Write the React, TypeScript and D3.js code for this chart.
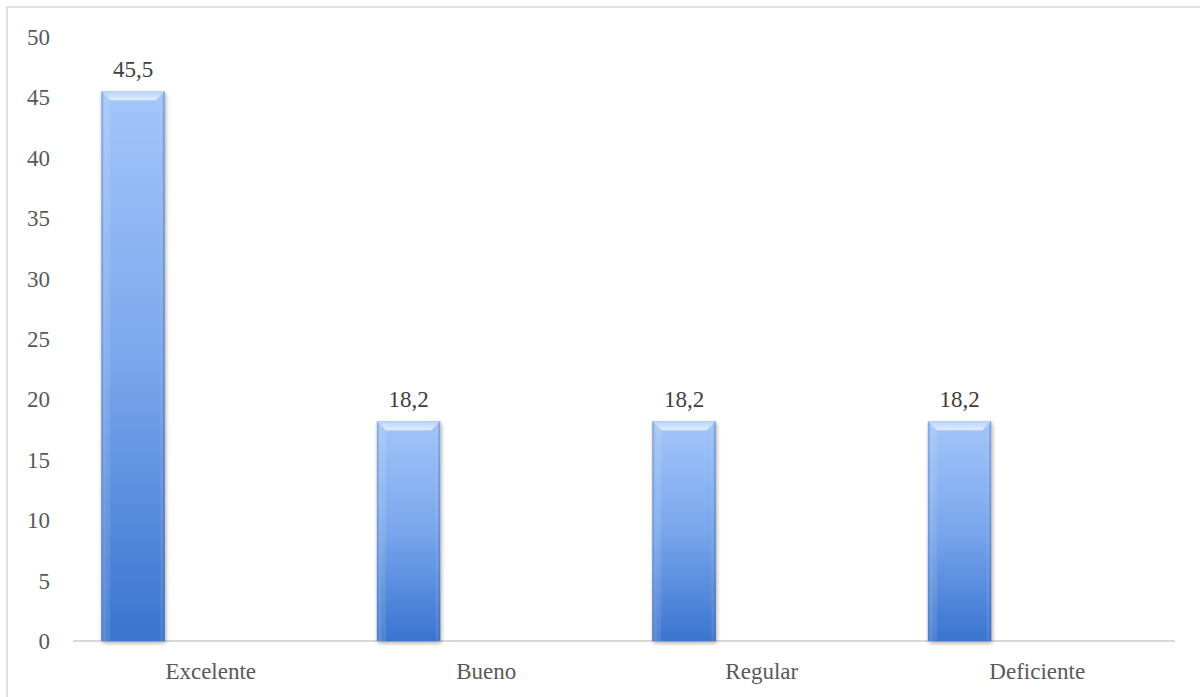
import React from "react";
import * as d3 from "d3";

const categories = ["Excelente", "Bueno", "Regular", "Deficiente"];
const values = [45.5, 18.2, 18.2, 18.2];
const yTicks = [0, 5, 10, 15, 20, 25, 30, 35, 40, 45, 50];

const W = 1200;
const H = 697;
const left = 73;
const right = 1175;
const top = 37;
const bottom = 641;

export default function App() {
  const x = d3.scaleBand<string>().domain(categories).range([left, right]).padding(0);
  const y = d3.scaleLinear().domain([0, 50]).range([bottom, top]);
  const bw = x.bandwidth();
  const barW = bw * 0.23;
  const barOff = bw * 0.103;
  const font = "'Liberation Serif', 'DejaVu Serif', serif";
  const fs = 23;
  const fmt = (v: number) => v.toFixed(1).replace(".", ",");
  const bev = 9;

  return (
    <svg width={W} height={H} style={{ position: "absolute", left: 0, top: 0 }}>
      <defs>
        <linearGradient id="gv" x1="0" y1="0" x2="0" y2="1">
          <stop offset="0" stopColor="#a3c6fa" />
          <stop offset="0.5" stopColor="#79a6ec" />
          <stop offset="1" stopColor="#3a74cf" />
        </linearGradient>
        <linearGradient id="gh" x1="0" y1="0" x2="1" y2="0">
          <stop offset="0" stopColor="#1d4f9c" stopOpacity="0.45" />
          <stop offset="0.08" stopColor="#ffffff" stopOpacity="0" />
          <stop offset="0.92" stopColor="#ffffff" stopOpacity="0" />
          <stop offset="1" stopColor="#1d4f9c" stopOpacity="0.45" />
        </linearGradient>
        <linearGradient id="gb" x1="0" y1="0" x2="0" y2="1">
          <stop offset="0" stopColor="#b6d2fb" />
          <stop offset="1" stopColor="#e2eefe" />
        </linearGradient>
        <filter id="sh" x="-20%" y="-5%" width="140%" height="110%">
          <feGaussianBlur in="SourceAlpha" stdDeviation="2" />
          <feOffset dx="1" dy="2" />
          <feComponentTransfer><feFuncA type="linear" slope="0.35" /></feComponentTransfer>
          <feMerge><feMergeNode /><feMergeNode in="SourceGraphic" /></feMerge>
        </filter>
      </defs>
      <rect x={0} y={0} width={W} height={H} fill="#ffffff" />
      <rect x={7} y={7} width={W + 10} height={H + 10} fill="none" stroke="#d9d9d9" strokeWidth={1.5} />
      <line x1={left} x2={right} y1={bottom} y2={bottom} stroke="#d9d9d9" strokeWidth={2} />
      {yTicks.map((t) => (
        <text key={t} x={50} y={y(t)} dy="0.35em" textAnchor="end" fontFamily={font} fontSize={fs} fill="#595959">
          {t}
        </text>
      ))}
      {categories.map((c, i) => {
        const bx = (x(c) as number) + barOff;
        const by = y(values[i]);
        const bh = bottom - by;
        return (
          <g key={c}>
            <g filter="url(#sh)">
              <rect x={bx} y={by} width={barW} height={bh} fill="url(#gv)" />
            </g>
            <rect x={bx} y={by} width={barW} height={bh} fill="url(#gh)" />
            <path d={`M${bx},${by} L${bx + barW},${by} L${bx + barW - bev},${by + bev} L${bx + bev},${by + bev} Z`} fill="url(#gb)" />
            <path d={`M${bx},${by} L${bx + bev},${by + bev} L${bx + bev},${by + bh} L${bx},${by + bh} Z`} fill="#ffffff" opacity={0.1} />
            <text x={bx + barW / 2} y={by - 14} textAnchor="middle" fontFamily={font} fontSize={fs} fill="#404040">
              {fmt(values[i])}
            </text>
            <text x={(x(c) as number) + bw / 2} y={679} textAnchor="middle" fontFamily={font} fontSize={fs} fill="#595959">
              {c}
            </text>
          </g>
        );
      })}
    </svg>
  );
}
